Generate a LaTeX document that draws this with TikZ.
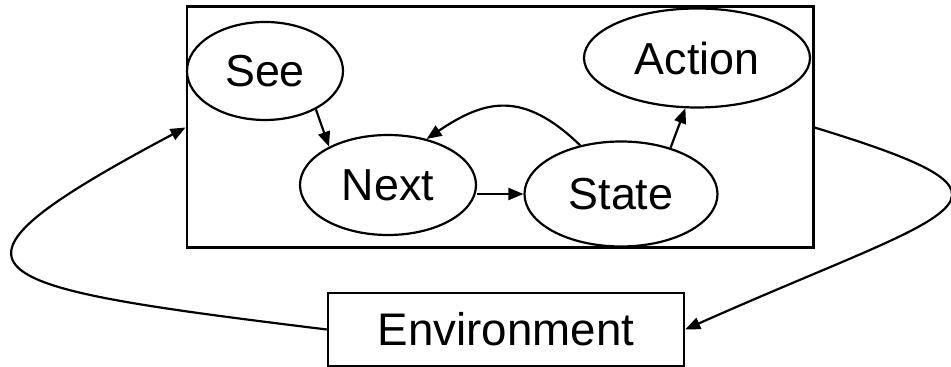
\documentclass[tikz,border=0pt]{standalone}
\usepackage{fontspec}
\setmainfont{Liberation Sans}
\usetikzlibrary{shapes.geometric,arrows.meta}

\begin{document}
\begin{tikzpicture}[
    oval/.style={draw, ellipse, line width=1.25pt, inner sep=0pt, font=\fontsize{25.5}{30}\selectfont},
    box/.style={draw, rectangle, inner sep=0pt, font=\fontsize{26}{30}\selectfont},
    arr/.style={line width=1.25pt, -{Triangle[length=3mm,width=2.4mm]}}]
    \useasboundingbox (0,0) rectangle (19.02,7.34);
    \node (frame) [box, line width=1.7pt, minimum width=12.52cm, minimum height=4.82cm] at (10.00,4.79) {};
    \node (see) [oval, minimum width=3.12cm, minimum height=1.96cm] at (5.30,5.92) {See};
    \node (next) [oval, minimum width=3.52cm, minimum height=2.00cm] at (7.76,3.64) {Next};
    \node (action) [oval, minimum width=4.52cm, minimum height=1.98cm] at (13.94,6.18) {Action};
    \node (state) [oval, minimum width=3.86cm, minimum height=2.10cm] at (12.42,3.46) {State};
    \node (env) [box, line width=1.4pt, minimum width=7.12cm, minimum height=1.46cm] at (10.12,0.75) {Environment};
    % inside the agent
    \draw [arr] (see.-37) -- (next.147);
    \draw [arr] (next.east |- state.west) -- (state.west);
    \draw [arr] (state.130) .. controls +(136:1.6) and +(34:1.4) .. (next.50);
    \draw [arr] (state.43) -- (action.-103);
    % loop through the environment
    \draw [arr] (frame.east) .. controls +(-17:5) and +(24:6) .. (env.east);
    \draw [arr] (env.west) .. controls +(173:7.2) and +(208:6.2) .. (frame.west);
\end{tikzpicture}
\end{document}
